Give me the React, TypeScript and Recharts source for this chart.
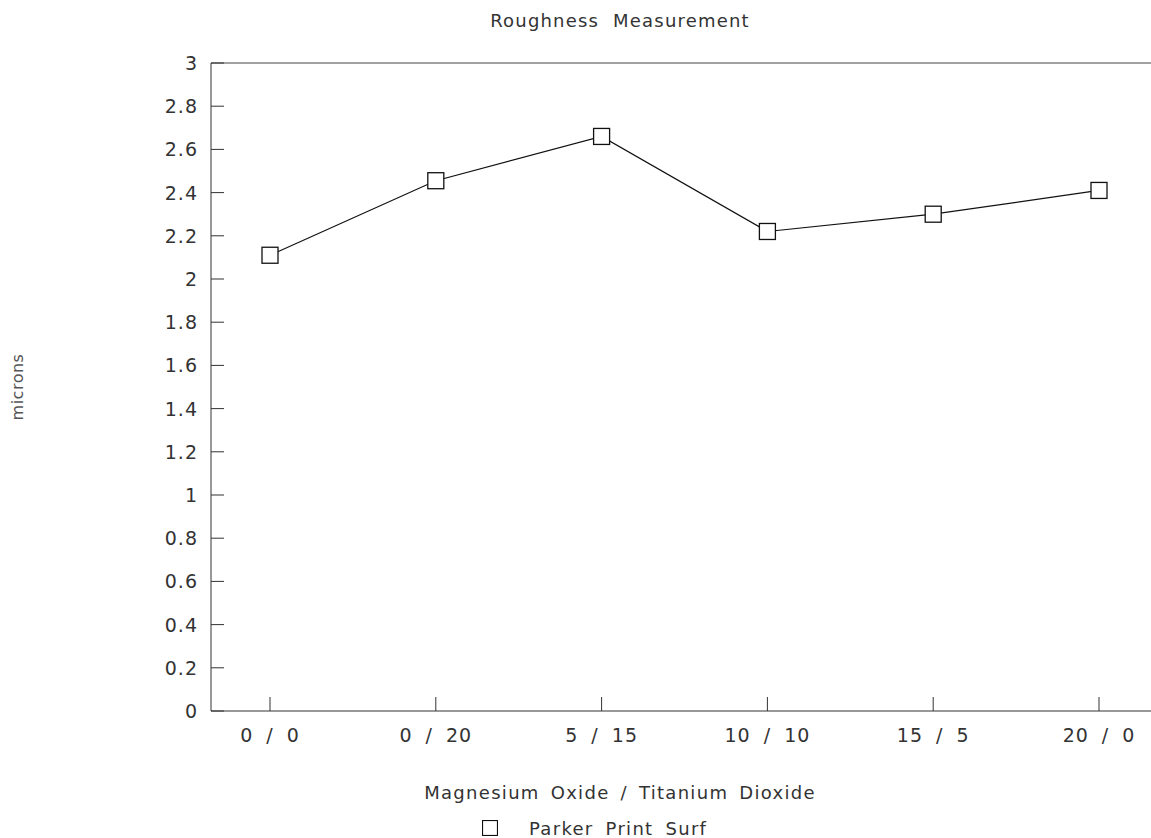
import React from "react";
import { LineChart, Line, XAxis, YAxis, ReferenceLine, Legend } from "recharts";

const categories = ["0 / 0", "0 / 20", "5 / 15", "10 / 10", "15 / 5", "20 / 0"];
const parkerPrintSurf = [2.11, 2.455, 2.66, 2.22, 2.3, 2.41];
const yTicks = [0, 0.2, 0.4, 0.6, 0.8, 1, 1.2, 1.4, 1.6, 1.8, 2, 2.2, 2.4, 2.6, 2.8, 3];

const data = categories.map((c, i) => ({ name: c, value: parkerPrintSurf[i] }));

const FONT = "'DejaVu Sans', sans-serif";
const INK = "#333";

function YTick({ x, y, payload }: any) {
  return (
    <g>
      <line x1={x} y1={y} x2={x + 13} y2={y} stroke={INK} strokeWidth={1} />
      <text x={x - 13} y={y} dy={7} textAnchor="end" fill={INK} fontSize={19} fontFamily={FONT} letterSpacing={1}>
        {payload.value}
      </text>
    </g>
  );
}

function XTick({ x, y, payload }: any) {
  return (
    <g>
      <line x1={x} y1={y} x2={x} y2={y - 14} stroke={INK} strokeWidth={1} />
      <text x={x} y={y + 31} textAnchor="middle" fill={INK} fontSize={19} fontFamily={FONT}
        letterSpacing={1} wordSpacing={6}>
        {payload.value}
      </text>
    </g>
  );
}

function SquareDot({ cx, cy }: any) {
  return <rect x={cx - 8} y={cy - 8} width={16} height={16} fill="#fff" stroke="#111" strokeWidth={1.3} />;
}

function YLabel({ viewBox }: any) {
  const cx = 17;
  const cy = viewBox.y + viewBox.height / 2 + 0;
  return (
    <text x={cx} y={cy} transform={`rotate(-90 ${cx} ${cy})`} textAnchor="middle" dominantBaseline="central"
      fill="#555" fontSize={16} fontFamily={FONT} letterSpacing={0.5}>
      microns
    </text>
  );
}

function XLabel({ viewBox }: any) {
  const cx = viewBox.x + viewBox.width / 2 - 61;
  const cy = viewBox.y + 88;
  return (
    <text x={cx} y={cy} textAnchor="middle" fill={INK} fontSize={18} fontFamily={FONT}
      letterSpacing={1.3} wordSpacing={4}>
      Magnesium Oxide / Titanium Dioxide
    </text>
  );
}

function LegendContent() {
  return (
    <div style={{ display: "flex", alignItems: "center", justifyContent: "flex-start", height: 20, paddingLeft: 482,
      fontFamily: FONT, fontSize: 18, color: INK, letterSpacing: 1.3, wordSpacing: 5 }}>
      <svg width={16} height={16} style={{ marginRight: 31, flex: "none" }}>
        <rect x={0.5} y={0.5} width={15} height={15} fill="#fff" stroke="#111" strokeWidth={1.2} />
      </svg>
      <span style={{ whiteSpace: "nowrap" }}>Parker Print Surf</span>
    </div>
  );
}

export default function App() {
  return (
    <div style={{ position: "absolute", left: 0, top: 0, width: 1151, height: 838, background: "#fff" }}>
      <div style={{ position: "absolute", left: 420, top: 10, width: 400, textAlign: "center", fontFamily: FONT,
        fontSize: 18, color: INK, letterSpacing: 1.2, wordSpacing: 7, whiteSpace: "nowrap" }}>
        Roughness Measurement
      </div>
      <LineChart width={1151} height={838} data={data} margin={{ top: 63, right: 0, left: 0, bottom: 0 }}>
        <XAxis
          dataKey="name"
          height={107}
          padding={{ left: 59, right: 52 }}
          axisLine={{ stroke: INK }}
          tickLine={false}
          tickSize={0}
          tickMargin={0}
          tick={<XTick />}
          interval={0}
          label={<XLabel />}
        />
        <YAxis
          width={211}
          domain={[0, 3]}
          ticks={yTicks}
          axisLine={{ stroke: INK }}
          tickLine={false}
          tickSize={0}
          tickMargin={0}
          tick={<YTick />}
          interval={0}
          label={<YLabel />}
        />
        <ReferenceLine y={3} stroke="#444" strokeWidth={1.2} />
        <Legend verticalAlign="bottom" height={20} content={<LegendContent />} />
        <Line
          type="linear"
          dataKey="value"
          name="Parker Print Surf"
          stroke="#111"
          strokeWidth={1.2}
          dot={<SquareDot />}
          activeDot={false}
          isAnimationActive={false}
        />
      </LineChart>
    </div>
  );
}
